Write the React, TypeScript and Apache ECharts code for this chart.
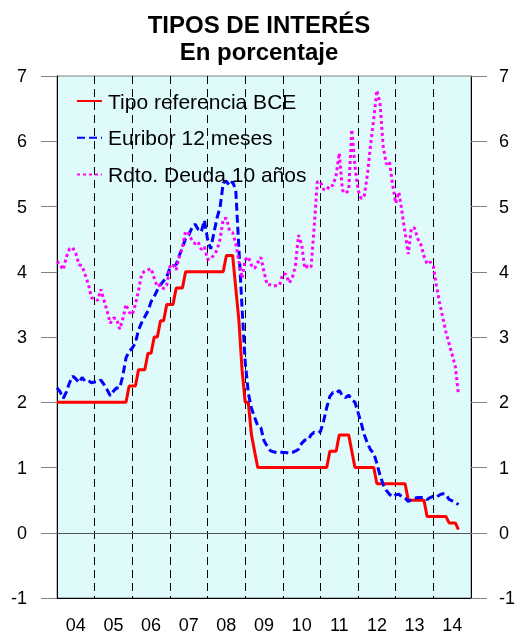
import React, { useEffect, useRef } from "react";
import * as echarts from "echarts";

// Year labels (axis categories)
const years = ["04", "05", "06", "07", "08", "09", "10", "11", "12", "13", "14"];

// Monthly values, Jan 2004 - Sep 2014
const bce = [
  2, 2, 2, 2, 2, 2, 2, 2, 2, 2, 2, 2,
  2, 2, 2, 2, 2, 2, 2, 2, 2, 2, 2, 2.25,
  2.25, 2.25, 2.5, 2.5, 2.5, 2.75, 2.75, 3, 3, 3.25, 3.25, 3.5,
  3.5, 3.5, 3.75, 3.75, 3.75, 4, 4, 4, 4, 4, 4, 4,
  4, 4, 4, 4, 4, 4, 4.25, 4.25, 4.25, 3.75, 3.25, 2.5,
  2, 2, 1.5, 1.25, 1, 1, 1, 1, 1, 1, 1, 1,
  1, 1, 1, 1, 1, 1, 1, 1, 1, 1, 1, 1,
  1, 1, 1, 1.25, 1.25, 1.25, 1.5, 1.5, 1.5, 1.5, 1.25, 1,
  1, 1, 1, 1, 1, 1, 0.75, 0.75, 0.75, 0.75, 0.75, 0.75,
  0.75, 0.75, 0.75, 0.75, 0.5, 0.5, 0.5, 0.5, 0.5, 0.5, 0.25, 0.25,
  0.25, 0.25, 0.25, 0.25, 0.25, 0.15, 0.15, 0.15, 0.05,
];

const euribor = [
  2.22, 2.16, 2.06, 2.16, 2.3, 2.4, 2.36, 2.3, 2.38, 2.32, 2.33, 2.3,
  2.31, 2.31, 2.34, 2.27, 2.19, 2.1, 2.17, 2.22, 2.22, 2.41, 2.68, 2.78,
  2.83, 2.91, 3.11, 3.22, 3.31, 3.4, 3.54, 3.62, 3.72, 3.8, 3.86, 3.92,
  4.06, 4.09, 4.11, 4.25, 4.37, 4.51, 4.56, 4.67, 4.73, 4.65, 4.61, 4.79,
  4.5, 4.35, 4.59, 4.82, 4.99, 5.36, 5.39, 5.32, 5.38, 5.25, 4.35, 3.45,
  2.62, 2.14, 1.91, 1.77, 1.64, 1.61, 1.41, 1.33, 1.26, 1.24, 1.23, 1.24,
  1.23, 1.23, 1.22, 1.23, 1.25, 1.28, 1.37, 1.42, 1.42, 1.5, 1.54, 1.53,
  1.55, 1.71, 1.92, 2.09, 2.15, 2.14, 2.18, 2.1, 2.07, 2.11, 2.04, 2.0,
  1.84, 1.68, 1.5, 1.37, 1.27, 1.22, 1.06, 0.88, 0.74, 0.65, 0.59, 0.55,
  0.58, 0.59, 0.55, 0.53, 0.48, 0.51, 0.53, 0.54, 0.54, 0.54, 0.51, 0.54,
  0.56, 0.55, 0.58, 0.6, 0.59, 0.51, 0.49, 0.47, 0.43,
];

const rdto = [
  4.16, 4.11, 4.03, 4.23, 4.35, 4.37, 4.28, 4.11, 4.09, 3.95, 3.81, 3.6,
  3.59, 3.56, 3.73, 3.56, 3.39, 3.21, 3.29, 3.28, 3.12, 3.28, 3.5, 3.38,
  3.34, 3.5, 3.71, 3.97, 4.01, 4.03, 4.05, 3.9, 3.77, 3.8, 3.74, 3.8,
  4.08, 4.12, 4.03, 4.23, 4.38, 4.62, 4.59, 4.48, 4.43, 4.46, 4.34, 4.38,
  4.19, 4.19, 4.26, 4.33, 4.5, 4.81, 4.82, 4.63, 4.6, 4.43, 4.16, 3.9,
  4.18, 4.23, 4.1, 4.05, 4.14, 4.22, 4.0, 3.8, 3.8, 3.78, 3.79, 3.8,
  3.97, 3.96, 3.83, 3.9, 4.09, 4.56, 4.42, 4.05, 4.09, 4.07, 4.68, 5.38,
  5.38, 5.26, 5.25, 5.33, 5.32, 5.48, 5.82, 5.25, 5.2, 5.25, 6.18, 5.62,
  5.25, 5.12, 5.17, 5.5, 5.95, 6.35, 6.78, 6.58, 5.92, 5.65, 5.69, 5.34,
  5.05, 5.22, 4.92, 4.59, 4.27, 4.67, 4.67, 4.51, 4.42, 4.24, 4.12, 4.15,
  4.08, 3.78, 3.52, 3.3, 3.08, 2.9, 2.73, 2.55, 2.12,
];

const seriesNames = ["Tipo referencia BCE", "Euribor 12 meses", "Rdto. Deuda 10 años"];

export default function App() {
  const ref = useRef<HTMLDivElement>(null);

  useEffect(() => {
    if (!ref.current) return;
    const chart = echarts.init(ref.current, null, { renderer: "svg" });
    const font = "'Liberation Sans', Arial, Helvetica, sans-serif";
    const toPts = (arr: number[]) => arr.map((v, i) => [i, v]);

    const yAxisBase = {
      type: "value",
      min: -1,
      max: 7,
      interval: 1,
      axisLine: { show: true, onZero: false, lineStyle: { color: "#000", width: 1 } },
      axisTick: { show: true, inside: false, length: 16, lineStyle: { color: "#7f7f7f", width: 1 } },
      splitLine: { show: false },
    };

    chart.setOption({
      animation: false,
      title: {
        text: "TIPOS DE INTERÉS\nEn porcentaje",
        left: "center",
        top: 11,
        padding: 0,
        textStyle: { fontFamily: font, fontSize: 24, fontWeight: "bold", color: "#000", lineHeight: 27 },
      },
      legend: {
        orient: "vertical",
        left: 71,
        top: 84,
        itemWidth: 25,
        itemHeight: 12,
        itemGap: 12.7,
        data: seriesNames,
        itemStyle: { opacity: 0 },
        textStyle: { fontFamily: font, fontSize: 21, color: "#000", lineHeight: 24, padding: [0, 0, 0, 1] },
      },
      grid: {
        left: 57,
        right: 46,
        top: 76,
        bottom: 32,
        show: true,
        backgroundColor: "#DFFAFA",
        borderColor: "#7f7f7f",
        borderWidth: 1,
      },
      xAxis: [
        {
          type: "value",
          min: 0,
          max: 132,
          interval: 12,
          axisLine: { show: true, onZero: false, lineStyle: { color: "#000", width: 1 } },
          axisTick: { show: false },
          axisLabel: { show: false },
          splitLine: { show: true, lineStyle: { color: "#000", width: 1, type: [8, 5] } },
        },
        {
          type: "category",
          data: years,
          position: "bottom",
          gridIndex: 0,
          boundaryGap: true,
          axisLine: { show: false, onZero: false },
          axisTick: { show: false },
          axisLabel: { fontFamily: font, fontSize: 18, color: "#000", margin: 18 },
          splitLine: { show: false },
        },
      ],
      yAxis: [
        { ...yAxisBase, position: "left", axisLabel: { fontFamily: font, fontSize: 18, color: "#000", margin: 30 } },
        { ...yAxisBase, position: "right", axisLabel: { fontFamily: font, fontSize: 18, color: "#000", margin: 28 } },
      ],
      series: [
        {
          name: seriesNames[0],
          type: "line",
          xAxisIndex: 0,
          yAxisIndex: 0,
          data: toPts(bce),
          symbol: "none",
          showSymbol: false,
          color: "#FF0000",
          lineStyle: { color: "#FF0000", width: 3, type: "solid" },
          markLine: {
            silent: true,
            symbol: "none",
            label: { show: false },
            lineStyle: { color: "#555", width: 1, type: "solid" },
            data: [{ yAxis: 0 }],
          },
        },
        {
          name: seriesNames[1],
          type: "line",
          xAxisIndex: 0,
          yAxisIndex: 0,
          data: toPts(euribor),
          symbol: "none",
          showSymbol: false,
          color: "#0000FF",
          lineStyle: { color: "#0000FF", width: 3, type: [8, 4] },
        },
        {
          name: seriesNames[2],
          type: "line",
          xAxisIndex: 0,
          yAxisIndex: 0,
          data: toPts(rdto),
          symbol: "none",
          showSymbol: false,
          color: "#FF00FF",
          lineStyle: { color: "#FF00FF", width: 3, type: [3, 3] },
        },
      ],
    });

    return () => chart.dispose();
  }, []);

  return (
    <div
      ref={ref}
      style={{ position: "fixed", left: 0, top: 0, width: 518, height: 634 }}
    />
  );
}
